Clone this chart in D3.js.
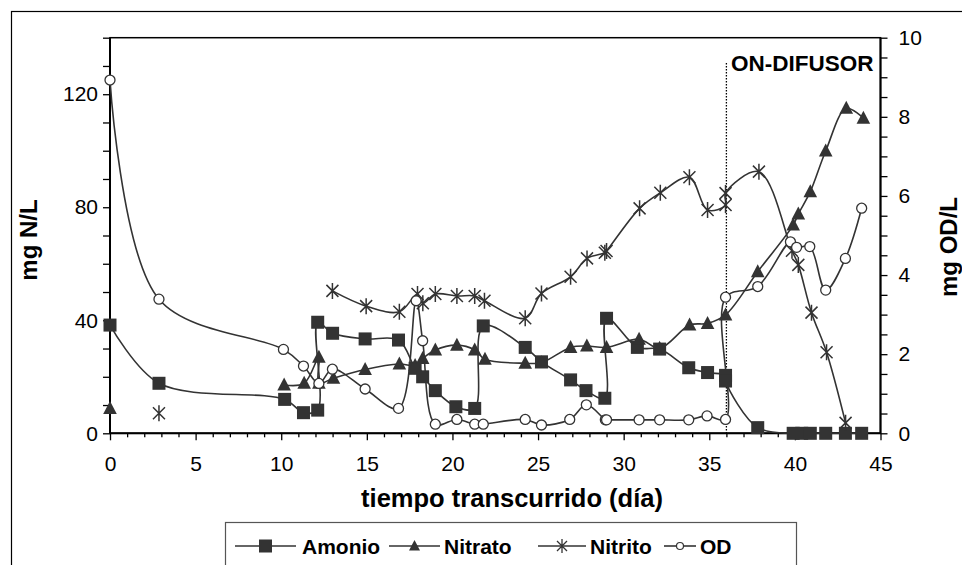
<!DOCTYPE html>
<html>
<head>
<meta charset="utf-8">
<script src="https://cdn.jsdelivr.net/npm/d3@7"></script>
<style>
  body { margin: 0; background: #fff; }
  text { font-family: "Liberation Sans", Arial, sans-serif; fill: #000; }
</style>
</head>
<body>
<div id="chart"></div>
<script>
// datos (dia, valor)
const amonioDias = [0, 2.86, 10.2, 11.3, 12.13, 12.13, 13.0, 14.9, 16.85, 17.82, 18.26, 19.0, 20.2, 21.3, 21.8, 24.25, 25.2, 26.9, 27.8, 28.9, 29.0, 30.8, 32.1, 33.8, 34.9, 35.95, 35.95, 37.83, 39.9, 40.4, 40.9, 41.8, 42.95, 43.9];
const amonioVal  = [38.3, 17.7, 12.0, 7.3, 8.2, 39.3, 35.4, 33.4, 33.0, 23.0, 20.0, 15.1, 9.4, 8.8, 38.0, 30.4, 25.3, 18.9, 15.1, 12.4, 40.7, 30.4, 29.8, 23.2, 21.5, 20.5, 18.5, 2.0, 0, 0, 0, 0, 0, 0];

const nitratoDias = [0, 10.17, 11.34, 12.2, 12.2, 13.05, 14.9, 16.9, 17.82, 18.26, 19.0, 20.26, 21.3, 21.9, 24.25, 25.2, 26.9, 27.85, 29.0, 30.9, 32.1, 33.85, 34.9, 35.95, 37.83, 39.9, 40.2, 40.9, 41.8, 43.0, 44.0];
const nitratoVal  = [8.8, 17.1, 17.7, 26.9, 17.7, 19.5, 22.6, 24.5, 24.0, 26.5, 29.5, 31.2, 29.5, 26.2, 24.8, 25.0, 30.4, 30.9, 30.4, 33.3, 30.1, 38.3, 38.9, 41.9, 57.2, 73.7, 77.6, 85.5, 99.9, 115.0, 111.5];

const nitritoDias = [2.86, 12.99, 14.96, 16.9, 17.96, 18.27, 19.0, 20.26, 21.3, 21.87, 24.25, 25.2, 26.9, 27.86, 28.9, 29.0, 30.93, 32.14, 33.84, 34.9, 35.95, 35.95, 37.9, 39.83, 40.2, 40.97, 41.85, 42.96];
const nitritoVal  = [7.1, 50.4, 45.0, 43.0, 49.3, 46.0, 49.3, 48.6, 48.6, 46.9, 40.7, 49.5, 55.4, 61.9, 63.9, 64.5, 79.6, 85.1, 90.6, 79.0, 80.8, 85.0, 92.6, 64.6, 59.6, 42.7, 28.7, 3.7];

const odDias = [0, 2.86, 10.13, 11.3, 12.2, 12.99, 14.9, 16.85, 17.88, 18.26, 19.0, 20.26, 21.3, 21.8, 24.25, 25.2, 26.85, 27.82, 28.93, 29.0, 30.9, 32.1, 33.8, 34.87, 35.95, 35.95, 37.83, 39.74, 40.1, 40.87, 41.8, 42.95, 43.9];
const odVal  = [8.93, 3.39, 2.12, 1.70, 1.26, 1.62, 1.12, 0.63, 3.35, 2.34, 0.23, 0.35, 0.23, 0.23, 0.35, 0.21, 0.35, 0.72, 0.34, 0.34, 0.34, 0.34, 0.34, 0.44, 0.35, 3.44, 3.71, 4.84, 4.70, 4.72, 3.62, 4.42, 5.69];

const xTicks = [0, 5, 10, 15, 20, 25, 30, 35, 40, 45];
const yTicksIzq = [0, 40, 80, 120];
const yTicksDer = [0, 2, 4, 6, 8, 10];
const diaDifusor = 36;

// dimensiones
const W = 962, H = 565;
const plot = {left: 110, right: 880.5, top: 37.7, bottom: 433.3};

const svg = d3.select("#chart").append("svg")
    .attr("width", W)
    .attr("height", H);

// marco exterior
svg.append("rect")
    .attr("x", 11.5).attr("y", 11.5)
    .attr("width", 1000).attr("height", 700)
    .attr("fill", "none").attr("stroke", "#000").attr("stroke-width", 1.2);

const x = d3.scaleLinear().domain([0, 45]).range([plot.left, plot.right]);
const yL = d3.scaleLinear().domain([0, 140]).range([plot.bottom, plot.top]);
const yR = d3.scaleLinear().domain([0, 10]).range([plot.bottom, plot.top]);

// borde del area de trazado
svg.append("rect")
    .attr("x", plot.left).attr("y", plot.top)
    .attr("width", plot.right - plot.left).attr("height", plot.bottom - plot.top)
    .attr("fill", "none").attr("stroke", "#000").attr("stroke-width", 1.5);

// ejes
const ejeX = svg.append("g").attr("transform", `translate(0,${plot.bottom})`);
ejeX.call(d3.axisBottom(x).tickValues(d3.range(0, 46, 1)).tickSize(4).tickFormat(""));
ejeX.call(g => g.selectAll(".tick").filter(d => d % 5 === 0).select("line").attr("y2", 7));
const ejeXLab = svg.append("g").attr("transform", `translate(0,${plot.bottom})`);
ejeXLab.call(d3.axisBottom(x).tickValues(xTicks).tickSize(0).tickPadding(23));

const ejeY = svg.append("g").attr("transform", `translate(${plot.left},0)`);
ejeY.call(d3.axisLeft(yL).tickValues(d3.range(0, 141, 10)).tickSize(7).tickFormat(""));
const ejeYLab = svg.append("g").attr("transform", `translate(${plot.left},0)`);
ejeYLab.call(d3.axisLeft(yL).tickValues(yTicksIzq).tickSize(0).tickPadding(12));

const ejeY2 = svg.append("g").attr("transform", `translate(${plot.right},0)`);
ejeY2.call(d3.axisRight(yR).tickValues(d3.range(0, 10.01, 0.5)).tickSize(7).tickFormat(""));
const ejeY2Lab = svg.append("g").attr("transform", `translate(${plot.right},0)`);
ejeY2Lab.call(d3.axisRight(yR).tickValues(yTicksDer).tickSize(0).tickPadding(18));

svg.selectAll(".domain").remove();
svg.selectAll(".tick line").attr("stroke", "#000").attr("stroke-width", 1.3);
svg.selectAll(".tick text").attr("font-size", 21).attr("font-family", "Liberation Sans, Arial, sans-serif").attr("fill", "#000");

// linea de ejes (mas gruesa)
svg.append("line").attr("x1", plot.left).attr("x2", plot.left).attr("y1", plot.top).attr("y2", plot.bottom)
    .attr("stroke", "#000").attr("stroke-width", 2);
svg.append("line").attr("x1", plot.right).attr("x2", plot.right).attr("y1", plot.top).attr("y2", plot.bottom)
    .attr("stroke", "#000").attr("stroke-width", 2);
svg.append("line").attr("x1", plot.left).attr("x2", plot.right).attr("y1", plot.bottom).attr("y2", plot.bottom)
    .attr("stroke", "#000").attr("stroke-width", 2);

// titulos de ejes
svg.append("text")
    .attr("x", 512).attr("y", 507)
    .attr("text-anchor", "middle")
    .attr("font-size", 25.5).attr("font-weight", "bold")
    .text("tiempo transcurrido (día)");
svg.append("text")
    .attr("transform", "translate(37,240) rotate(-90)")
    .attr("text-anchor", "middle")
    .attr("font-size", 24).attr("font-weight", "bold")
    .text("mg N/L");
svg.append("text")
    .attr("transform", "translate(957,247) rotate(-90)")
    .attr("text-anchor", "middle")
    .attr("font-size", 24).attr("font-weight", "bold")
    .text("mg OD/L");

// linea ON-DIFUSOR
svg.append("line")
    .attr("x1", x(diaDifusor)).attr("x2", x(diaDifusor))
    .attr("y1", 63).attr("y2", plot.bottom)
    .attr("stroke", "#000").attr("stroke-width", 1.3)
    .attr("stroke-dasharray", "1.5,1.5");
svg.append("text")
    .attr("x", 731).attr("y", 71)
    .attr("font-size", 22.5).attr("font-weight", "bold")
    .text("ON-DIFUSOR");

const curva = d3.curveCatmullRom.alpha(0.5);
const gris = "#333";

function serie(dias, vals, desde) {
  return dias.map((d, i) => ({x: d, y: vals[i], linea: i >= desde}));
}

const series = [
  {nombre: "Amonio", datos: serie(amonioDias, amonioVal, 0), y: yL, marca: "cuadro"},
  {nombre: "Nitrato", datos: serie(nitratoDias, nitratoVal, 1), y: yL, marca: "triangulo"},
  {nombre: "Nitrito", datos: serie(nitritoDias, nitritoVal, 1), y: yL, marca: "asterisco"},
  {nombre: "OD", datos: serie(odDias, odVal, 0), y: yR, marca: "circulo"}
];

function dibujaMarca(g, tipo) {
  if (tipo === "cuadro") {
    g.append("rect").attr("x", -6.5).attr("y", -6.5).attr("width", 13).attr("height", 13)
      .attr("fill", gris);
  } else if (tipo === "triangulo") {
    g.append("path").attr("d", "M0,-7.5L6.8,5.5L-6.8,5.5Z").attr("fill", gris);
  } else if (tipo === "asterisco") {
    g.append("path").attr("d", "M-6,-6L6,6M-6,6L6,-6M0,-8L0,8")
      .attr("stroke", gris).attr("stroke-width", 1.5).attr("fill", "none");
  } else {
    g.append("circle").attr("r", 5).attr("fill", "#fff")
      .attr("stroke", gris).attr("stroke-width", 1.3);
  }
}

// lineas primero, marcas encima
series.forEach(s => {
  const linea = d3.line()
      .x(d => x(d.x))
      .y(d => s.y(d.y))
      .curve(curva);
  svg.append("path")
      .datum(s.datos.filter(d => d.linea))
      .attr("d", linea)
      .attr("fill", "none")
      .attr("stroke", gris)
      .attr("stroke-width", 1.6);
});

series.forEach(s => {
  svg.append("g").selectAll("g")
      .data(s.datos)
    .enter().append("g")
      .attr("transform", d => `translate(${x(d.x)},${s.y(d.y)})`)
      .each(function() { dibujaMarca(d3.select(this), s.marca); });
});

// leyenda
const ley = svg.append("g");
ley.append("rect")
    .attr("x", 225.5).attr("y", 522.5)
    .attr("width", 571).attr("height", 80)
    .attr("fill", "#fff").attr("stroke", "#555").attr("stroke-width", 1.2);

const leyItems = [
  {nombre: "Amonio", marca: "cuadro", x0: 235, x1: 296, tx: 302},
  {nombre: "Nitrato", marca: "triangulo", x0: 389, x1: 440, tx: 444},
  {nombre: "Nitrito", marca: "asterisco", x0: 538, x1: 586, tx: 590},
  {nombre: "OD", marca: "circulo", x0: 664, x1: 696, tx: 700}
];
leyItems.forEach(it => {
  const yy = 546;
  ley.append("line").attr("x1", it.x0).attr("x2", it.x1).attr("y1", yy).attr("y2", yy)
      .attr("stroke", gris).attr("stroke-width", 1.6);
  const m = ley.append("g").attr("transform", `translate(${(it.x0 + it.x1) / 2},${yy})`);
  if (it.marca === "circulo") {
    m.append("circle").attr("r", 3.5).attr("fill", "#fff").attr("stroke", gris).attr("stroke-width", 1.2);
  } else if (it.marca === "asterisco") {
    m.append("path").attr("d", "M-5,-5L5,5M-5,5L5,-5M0,-7L0,7").attr("stroke", gris).attr("stroke-width", 1.3);
  } else if (it.marca === "triangulo") {
    m.append("path").attr("d", "M0,-6L5.5,4.5L-5.5,4.5Z").attr("fill", gris);
  } else {
    m.append("rect").attr("x", -6.5).attr("y", -6.5).attr("width", 13).attr("height", 13).attr("fill", gris);
  }
  ley.append("text")
      .attr("x", it.tx).attr("y", yy + 8)
      .attr("font-size", 21).attr("font-weight", "bold")
      .text(it.nombre);
});
</script>
</body>
</html>
